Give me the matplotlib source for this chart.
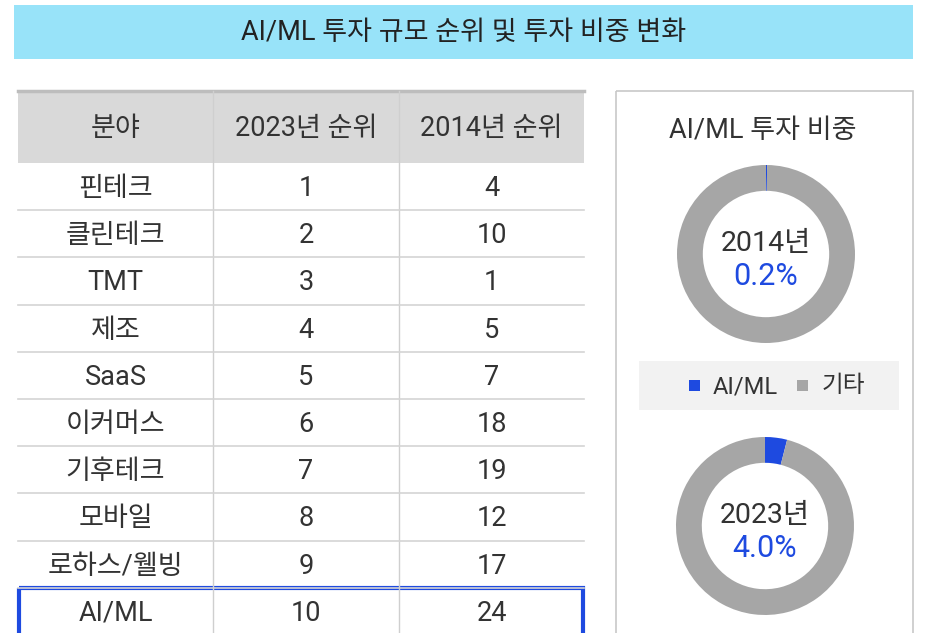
import matplotlib
matplotlib.use("Agg")
import matplotlib.pyplot as plt
from matplotlib.patches import Rectangle

plt.rcParams['font.family'] = ['Roboto', 'Noto Sans CJK KR', 'DejaVu Sans']

# data
title = "AI/ML 투자 규모 순위 및 투자 비중 변화"
headers = ["분야", "2023년 순위", "2014년 순위"]
fields = ["핀테크", "클린테크", "TMT", "제조", "SaaS", "이커머스", "기후테크", "모바일", "로하스/웰빙", "AI/ML"]
rank_2023 = [1, 2, 3, 4, 5, 6, 7, 8, 9, 10]
rank_2014 = [4, 10, 1, 5, 7, 18, 19, 12, 17, 24]
years = ["2014년", "2023년"]
ai_share = [0.2, 4.0]
legend_labels = ["AI/ML", "기타"]

blue = "#1E4AE0"
gray = "#A6A6A6"
txt = "#333333"

W, H = 931, 633
fig = plt.figure(figsize=(W / 100, H / 100), dpi=100)
ax = fig.add_axes([0, 0, 1, 1])
ax.set_xlim(0, W)
ax.set_ylim(H, 0)
ax.axis("off")

# title banner
ax.add_patch(Rectangle((14, 5), 899, 54, color="#98E3F9", lw=0))
ax.text(464, 33, title, ha="center", va="center", fontsize=19.5, color="#222222")

# table
col_x = [18, 213, 399, 584]
head_top, head_bot = 91, 163
row_h = 47.2
ax.add_patch(Rectangle((col_x[0], head_top), col_x[-1] - col_x[0], head_bot - head_top,
                       color="#D9D9D9", lw=0))
ax.plot([col_x[0], col_x[-1]], [head_top, head_top], color="#BDBDBD", lw=2.5)
for i, h in enumerate(headers):
    ax.text((col_x[i] + col_x[i + 1]) / 2, 128, h, ha="center", va="center",
            fontsize=19.5, color=txt)

n = len(fields)
for j in range(1, 3):
    ax.plot([col_x[j], col_x[j]], [head_top, H], color="#CFCFCF", lw=1)
for r in range(n):
    top = head_bot + r * row_h
    if r > 0:
        ax.plot([col_x[0], col_x[-1]], [top, top], color="#D4D4D4", lw=1.2)
    cy = top + row_h / 2
    vals = [fields[r], str(rank_2023[r]), str(rank_2014[r])]
    for i, v in enumerate(vals):
        ax.text((col_x[i] + col_x[i + 1]) / 2, cy + 2, v, ha="center", va="center",
                fontsize=19.5, color=txt)

# highlight AI/ML row
hl_top = head_bot + (n - 1) * row_h
ax.add_patch(Rectangle((col_x[0] + 1, hl_top), col_x[-1] - col_x[0] - 2, row_h + 10,
                       fill=False, ec=blue, lw=3, clip_on=True))

# right panel
ax.add_patch(Rectangle((616, 91), 297, 560, fill=False, ec="#C8C8C8", lw=1.2))
ax.text(763, 130, "AI/ML 투자 비중", ha="center", va="center", fontsize=19.5, color=txt)

# legend box
ax.add_patch(Rectangle((639, 361), 260, 49, color="#F2F2F2", lw=0))
ax.add_patch(Rectangle((689, 380), 11, 11, color=blue, lw=0))
ax.text(713, 387, legend_labels[0], ha="left", va="center", fontsize=17, color=txt)
ax.add_patch(Rectangle((797, 380), 11, 11, color=gray, lw=0))
ax.text(822, 385, legend_labels[1], ha="left", va="center", fontsize=17, color=txt)

# donuts
centers = [(766, 254), (765, 526)]
radius = 89
for (cx, cy), yr, s in zip(centers, years, ai_share):
    dax = fig.add_axes([(cx - radius) / W, 1 - (cy + radius) / H,
                        2 * radius / W, 2 * radius / H])
    dax.pie([s, 100 - s], colors=[blue, gray], startangle=90, counterclock=False,
            radius=1, wedgeprops=dict(width=0.29, edgecolor="none"))
    dax.set_xlim(-1, 1)
    dax.set_ylim(-1, 1)
    dax.set_aspect("equal")
    dax.axis("off")
    dax.text(0, 0.12, yr, ha="center", va="center", fontsize=20.5, color=txt)
    dax.text(0, -0.25, f"{s:.1f}%", ha="center", va="center", fontsize=22, color=blue)

fig.savefig("out.png", dpi=100)
